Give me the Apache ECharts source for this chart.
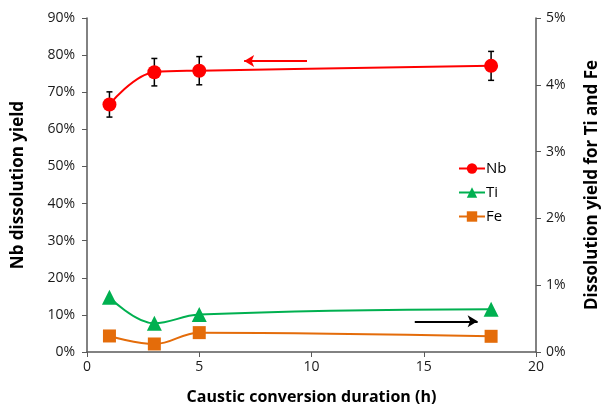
<!DOCTYPE html>
<html>
<head>
<meta charset="utf-8">
<script src="https://cdn.jsdelivr.net/npm/echarts@6/dist/echarts.min.js"></script>
<style>
  html, body { margin: 0; padding: 0; background: #fff; }
  #chart { width: 602px; height: 407px; }
</style>
</head>
<body>
<div id="chart"></div>
<script>
// Caustic conversion duration (h)
const durations = [1, 3, 5, 18];
// Nb dissolution yield (%), with error half-widths
const nbYield = [66.7, 75.4, 75.8, 77.1];
const nbError = [3.4, 3.7, 3.8, 3.9];
// Ti and Fe dissolution yields (%), right axis
const tiYield = [0.82, 0.43, 0.56, 0.64];
const feYield = [0.24, 0.12, 0.29, 0.235];
// Axis tick settings
const leftAxisMax = 90, leftAxisStep = 10;
const rightAxisMax = 5, rightAxisStep = 1;
const xMax = 20, xStep = 5;

const FONT = 'Open Sans';
const pair = (xs, ys) => xs.map((x, i) => [x, ys[i]]);

const chart = echarts.init(document.getElementById('chart'));
chart.setOption({
  animation: false,
  backgroundColor: '#fff',
  textStyle: { fontFamily: FONT },
  grid: { left: 87, right: 66, top: 18, bottom: 55, outerBoundsMode: 'none', containLabel: false },
  legend: {
    orient: 'vertical',
    left: 453, top: 156,
    itemGap: 9,
    itemWidth: 26, itemHeight: 13,
    textStyle: { fontFamily: FONT, fontSize: 15, color: '#000', padding: [0, 0, 0, -4] },
    data: ['Nb', 'Ti', 'Fe']
  },
  xAxis: {
    type: 'value', min: 0, max: xMax, interval: xStep,
    name: 'Caustic conversion duration (h)',
    nameLocation: 'middle', nameGap: 37,
    nameTextStyle: { fontFamily: FONT, fontSize: 16, fontWeight: 'bold', color: '#000' },
    axisLine: { show: true, lineStyle: { color: '#595959', width: 1.5 } },
    axisTick: { show: true, inside: false, length: 5, lineStyle: { color: '#595959' } },
    axisLabel: { fontFamily: FONT, fontSize: 14, color: '#1a1a1a', margin: 8 },
    splitLine: { show: false }
  },
  yAxis: [{
    type: 'value', min: 0, max: leftAxisMax, interval: leftAxisStep,
    position: 'left',
    name: 'Nb dissolution yield',
    nameLocation: 'middle', nameGap: 60, nameRotate: 90,
    nameTextStyle: { fontFamily: FONT, fontSize: 17, fontWeight: 'bold', color: '#000' },
    axisLine: { show: true, lineStyle: { color: '#595959', width: 1.5 } },
    axisTick: { show: true, inside: false, length: 5, lineStyle: { color: '#595959' } },
    axisLabel: { fontFamily: FONT, fontSize: 14, color: '#1a1a1a', margin: 12, formatter: '{value}%' },
    splitLine: { show: false }
  }, {
    type: 'value', min: 0, max: rightAxisMax, interval: rightAxisStep,
    position: 'right',
    name: 'Dissolution yield for Ti and Fe',
    nameLocation: 'middle', nameGap: 48, nameRotate: 90,
    nameTextStyle: { fontFamily: FONT, fontSize: 17, fontWeight: 'bold', color: '#000' },
    axisLine: { show: true, lineStyle: { color: '#595959', width: 1.5 } },
    axisTick: { show: true, inside: false, length: 5, lineStyle: { color: '#595959' } },
    axisLabel: { fontFamily: FONT, fontSize: 14, color: '#1a1a1a', margin: 10, formatter: '{value}%' },
    splitLine: { show: false }
  }],
  series: [{
    name: 'Nb', type: 'line', yAxisIndex: 0, smooth: 0.4,
    data: pair(durations, nbYield),
    symbol: 'circle', symbolSize: 14,
    itemStyle: { color: '#FF0000' },
    lineStyle: { color: '#FF0000', width: 2 },
    z: 3,
    markLine: {
      silent: true, symbol: ['none', 'arrow'], symbolSize: [9, 10],
      label: { show: false },
      lineStyle: { color: '#FF0000', width: 2, type: 'solid' },
      data: [[{ coord: [9.8, 78.4] }, { coord: [7.0, 78.4] }]]
    }
  }, {
    name: 'Nb error', type: 'custom', yAxisIndex: 0,
    data: durations.map((x, i) => [x, nbYield[i] - nbError[i], nbYield[i] + nbError[i]]),
    renderItem: function (params, api) {
      const lo = api.coord([api.value(0), api.value(1)]);
      const hi = api.coord([api.value(0), api.value(2)]);
      const w = 3;
      const st = { stroke: '#000', lineWidth: 1.5 };
      return {
        type: 'group',
        children: [
          { type: 'line', shape: { x1: lo[0], y1: lo[1], x2: hi[0], y2: hi[1] }, style: st },
          { type: 'line', shape: { x1: lo[0] - w, y1: lo[1], x2: lo[0] + w, y2: lo[1] }, style: st },
          { type: 'line', shape: { x1: hi[0] - w, y1: hi[1], x2: hi[0] + w, y2: hi[1] }, style: st }
        ]
      };
    },
    z: 2
  }, {
    name: 'Ti', type: 'line', yAxisIndex: 1, smooth: 0.4,
    data: pair(durations, tiYield),
    symbol: 'triangle', symbolSize: 15,
    itemStyle: { color: '#00B050' },
    lineStyle: { color: '#00B050', width: 2 },
    markLine: {
      silent: true, symbol: ['none', 'arrow'], symbolSize: [9, 10],
      label: { show: false },
      lineStyle: { color: '#000', width: 2, type: 'solid' },
      data: [[{ coord: [14.6, 0.46] }, { coord: [17.4, 0.46] }]]
    }
  }, {
    name: 'Fe', type: 'line', yAxisIndex: 1, smooth: 0.4,
    data: pair(durations, feYield),
    symbol: 'rect', symbolSize: 13,
    itemStyle: { color: '#E46C0A' },
    lineStyle: { color: '#E46C0A', width: 2 }
  }]
});
</script>
</body>
</html>
